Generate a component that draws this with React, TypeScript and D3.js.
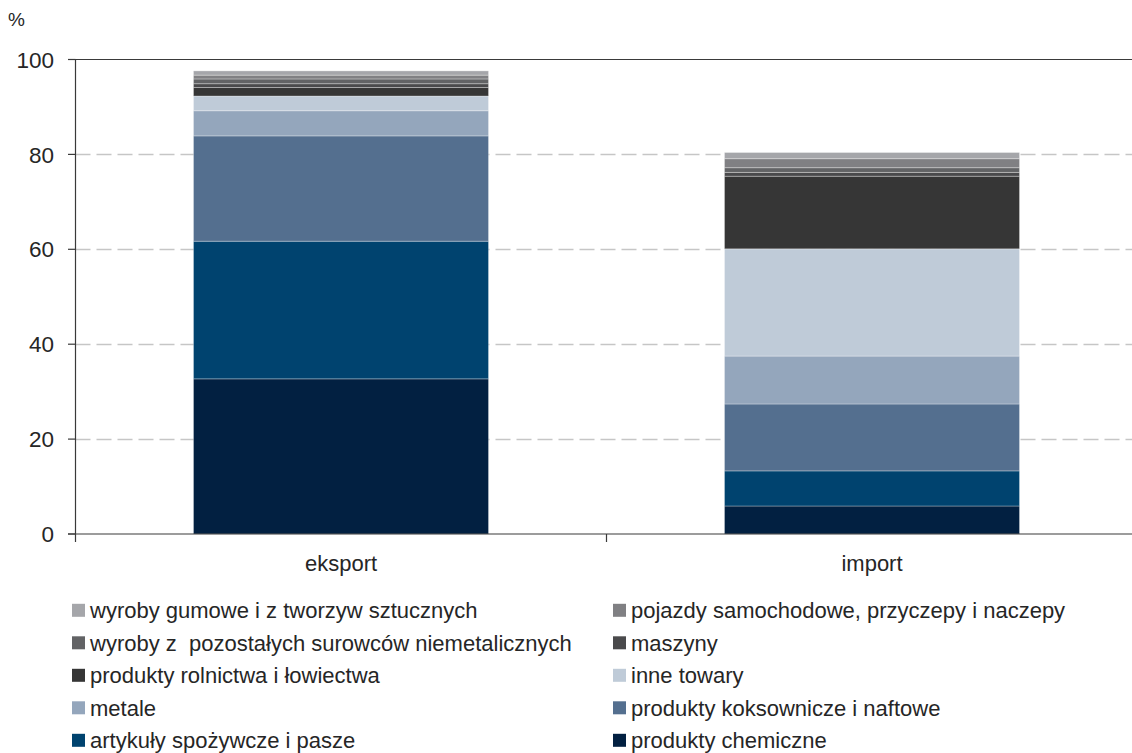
import React, { useEffect } from "react";
import * as d3 from "d3";

const categories = ["eksport", "import"];

// stack order: bottom to top
const seriesNames = [
  "produkty chemiczne",
  "artykuły spożywcze i pasze",
  "produkty koksownicze i naftowe",
  "metale",
  "inne towary",
  "produkty rolnictwa i łowiectwa",
  "maszyny",
  "wyroby z  pozostałych surowców niemetalicznych",
  "pojazdy samochodowe, przyczepy i naczepy",
  "wyroby gumowe i z tworzyw sztucznych",
];

const eksportValues = [32.7, 29.0, 22.2, 5.3, 3.1, 1.8, 0.8, 1.0, 0.8, 0.9];
const importValues = [5.9, 7.4, 14.1, 10.1, 22.6, 15.3, 0.8, 1.0, 1.9, 1.3];

const seriesColors = [
  "#022041",
  "#00436f",
  "#546f8f",
  "#94a6bc",
  "#bfcbd8",
  "#363636",
  "#4a4a4c",
  "#626365",
  "#808083",
  "#a5a6aa",
];

const yTicks = [0, 20, 40, 60, 80, 100];

// legend order (row-major, two columns)
const legendOrder = [
  "wyroby gumowe i z tworzyw sztucznych",
  "pojazdy samochodowe, przyczepy i naczepy",
  "wyroby z  pozostałych surowców niemetalicznych",
  "maszyny",
  "produkty rolnictwa i łowiectwa",
  "inne towary",
  "metale",
  "produkty koksownicze i naftowe",
  "artykuły spożywcze i pasze",
  "produkty chemiczne",
];

const W = 1132;
const H = 753;
const FONT = "'Liberation Sans', Arial, sans-serif";
const TEXT = "#262626";

export default function App() {
  useEffect(() => {
    document.body.style.margin = "0";
  }, []);

  const x = d3
    .scaleBand<string>()
    .domain(categories)
    .range([75.5, 1137.5])
    .paddingInner(0.4444)
    .paddingOuter(0.2222);
  const y = d3.scaleLinear().domain([0, 100]).range([534, 59.5]);

  const rows = categories.map((c, i) => {
    const r: Record<string, any> = { cat: c };
    seriesNames.forEach((s, j) => {
      r[s] = i === 0 ? eksportValues[j] : importValues[j];
    });
    return r;
  });
  const stacked = d3.stack<any>().keys(seriesNames)(rows);
  const color = d3.scaleOrdinal<string, string>().domain(seriesNames).range(seriesColors);

  const x0 = 75.5;
  const xEnd = W;

  return (
    <svg width={W} height={H} style={{ display: "block" }} fontFamily={FONT}>
      <rect width={W} height={H} fill="#ffffff" />
      <text x={8} y={26} fontSize={19} fill={TEXT}>%</text>
      {/* gridlines */}
      {yTicks
        .filter((t) => t > 0 && t < 100)
        .map((t) => (
          <line
            key={"g" + t}
            x1={x0}
            x2={xEnd}
            y1={Math.round(y(t)) + 0.5}
            y2={Math.round(y(t)) + 0.5}
            stroke="#c6c6c6"
            strokeWidth={1.3}
            strokeDasharray="15,6"
          />
        ))}
      {/* bars */}
      {stacked.map((layer) =>
        layer.map((d, i) => (
          <rect
            key={layer.key + i}
            x={x(categories[i])!}
            width={x.bandwidth()}
            y={y(d[1])}
            height={y(d[0]) - y(d[1])}
            fill={color(layer.key)}
            stroke="rgba(255,255,255,0.3)"
            strokeWidth={1}
          />
        ))
      )}
      {/* top line at 100 */}
      <line x1={68} x2={xEnd} y1={59.5} y2={59.5} stroke="#3a3a3a" strokeWidth={1.2} />
      {/* y axis */}
      <line x1={x0} x2={x0} y1={59.5} y2={534} stroke="#3a3a3a" strokeWidth={1.2} />
      {yTicks.map((t) => (
        <g key={"t" + t}>
          <line x1={68} x2={x0} y1={y(t)} y2={y(t)} stroke="#3a3a3a" strokeWidth={1.2} />
          <text
            x={54}
            y={y(t)}
            dy="0.36em"
            textAnchor="end"
            fontSize={22.5}
            fill={TEXT}
          >
            {t}
          </text>
        </g>
      ))}
      {/* x axis */}
      <line x1={68} x2={xEnd} y1={534} y2={534} stroke="#3a3a3a" strokeWidth={1.2} />
      {[0, 1].map((i) => {
        const tx = 75.5 + i * x.step();
        return <line key={"xt" + i} x1={tx} x2={tx} y1={534} y2={542} stroke="#3a3a3a" strokeWidth={1.2} />;
      })}
      {categories.map((c) => (
        <text
          key={c}
          x={x(c)! + x.bandwidth() / 2}
          y={571}
          textAnchor="middle"
          fontSize={22}
          fill={TEXT}
        >
          {c}
        </text>
      ))}
      {/* legend */}
      {legendOrder.map((name, i) => {
        const col = i % 2;
        const row = Math.floor(i / 2);
        const sx = col === 0 ? 72 : 613;
        const cy = 610.3 + row * 32.5;
        return (
          <g key={name}>
            <rect x={sx} y={cy - 6.5} width={13} height={13} fill={color(name)} />
            <text x={sx + 18} y={cy} dy="0.36em" fontSize={22} fill={TEXT} style={{ whiteSpace: "pre" }}>
              {name}
            </text>
          </g>
        );
      })}
    </svg>
  );
}
